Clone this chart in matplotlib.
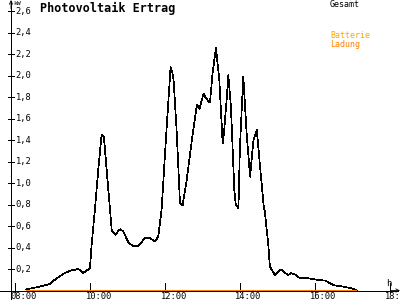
import matplotlib
matplotlib.use("Agg")
import matplotlib.pyplot as plt

# Gesamt (kW) ueber Uhrzeit (h)
hours = [8.29, 8.58, 8.93, 9.02, 9.29, 9.47, 9.69, 9.82, 10.00, 10.04,
         10.13, 10.22, 10.31, 10.37, 10.58, 10.67, 10.80, 10.89, 11.02, 11.16,
         11.29, 11.47, 11.60, 11.73, 11.82, 11.91, 12.04, 12.15, 12.19, 12.23,
         12.31, 12.40, 12.47, 12.58, 12.71, 12.85, 12.92, 13.03, 13.09, 13.20,
         13.27, 13.36, 13.45, 13.54, 13.58, 13.65, 13.69, 13.76, 13.85, 13.89,
         13.96, 14.00, 14.09, 14.18, 14.27, 14.36, 14.45, 14.53, 14.63, 14.67,
         14.76, 14.80, 14.93, 15.02, 15.11, 15.20, 15.29, 15.36, 15.47, 15.60,
         15.82, 16.09, 16.27, 16.49, 16.57, 16.78, 17.04, 17.13]
gesamt_kw = [0.01, 0.03, 0.06, 0.09, 0.155, 0.185, 0.20, 0.165, 0.207, 0.41,
             0.75, 1.12, 1.45, 1.435, 0.56, 0.52, 0.57, 0.55, 0.45, 0.41,
             0.415, 0.49, 0.49, 0.455, 0.50, 0.75, 1.49, 2.08, 2.04, 1.96,
             1.50, 0.815, 0.79, 1.03, 1.38, 1.73, 1.69, 1.835, 1.79, 1.75,
             2.02, 2.26, 1.96, 1.37, 1.49, 1.80, 2.005, 1.71, 0.935, 0.80,
             0.765, 1.34, 1.99, 1.46, 1.06, 1.40, 1.495, 1.18, 0.80, 0.72,
             0.41, 0.22, 0.145, 0.175, 0.197, 0.165, 0.145, 0.16, 0.15, 0.115,
             0.114, 0.098, 0.093, 0.051, 0.045, 0.035, 0.014, 0.0]

# Batterie Ladung
ladung_hours = [8.29, 17.12]
ladung_kw = [0.0, 0.0]

y_ticks = [0.2, 0.4, 0.6, 0.8, 1.0, 1.2, 1.4, 1.6, 1.8, 2.0, 2.2, 2.4, 2.6]
x_ticks = [8, 10, 12, 14, 16, 18]
x_labels = ["08:00", "10:00", "12:00", "14:00", "16:00", "18:"]

plt.rcParams['font.family'] = ['DejaVu Sans Mono']

W, H = 400, 300
LW = 0.5
fig = plt.figure(figsize=(4, 3), dpi=100)
# Achsen: y-Achse bei x=11px, Nulllinie bei y=290.5px
ax = fig.add_axes([11 / W, 9.5 / H, 389 / W, 290.5 / H])
ax.set_xlim(7.893, 18.27)
ax.set_ylim(0, 2.705)
ax.axis('off')

axw, axh = 389.0, 290.5

# Achsenlinien mit Pfeilen
ax.plot([-11 / axw, 387 / axw], [0, 0], transform=ax.transAxes, color='black',
        lw=LW, clip_on=False, zorder=1, antialiased=False)
ax.plot([0, 0], [-9.5 / axh, 0.995], transform=ax.transAxes, color='black',
        lw=LW, clip_on=False, zorder=1, antialiased=False)
ax.annotate('', xy=(1.0, 0), xytext=(380 / axw, 0), xycoords='axes fraction',
            arrowprops=dict(arrowstyle='->', lw=0.6, color='black',
                            shrinkA=0, shrinkB=0, mutation_scale=6))
ax.annotate('', xy=(0, 1.0), xytext=(0, 0.97), xycoords='axes fraction',
            arrowprops=dict(arrowstyle='->', lw=0.6, color='black',
                            shrinkA=0, shrinkB=0, mutation_scale=6))

# y-Ticks
ytr = ax.get_yaxis_transform()
for y in y_ticks:
    ax.plot([-3 / axw, 3 / axw], [y, y], transform=ytr, color='black',
            lw=LW, clip_on=False, antialiased=False)
    ax.text(4.5 / axw, y, f"{y:.1f}".replace('.', ','), transform=ytr,
            ha='left', va='center', fontsize=6.3)

# x-Ticks
xtr = ax.get_xaxis_transform()
for x, lab in zip(x_ticks, x_labels):
    ax.plot([x, x], [-1 / axh, 8 / axh], transform=xtr, color='black',
            lw=LW, clip_on=False, antialiased=False)
    ax.text(x - 4.5 / 37.5, -1.5 / axh, lab, transform=xtr, ha='left',
            va='top', fontsize=6.3, clip_on=False)

# Daten
ax.plot(hours, gesamt_kw, color='black', lw=LW, antialiased=False, zorder=3)
ax.plot(ladung_hours, ladung_kw, color='#ff8000', lw=1.4,
        solid_capstyle='butt', antialiased=False, zorder=4)

# Beschriftungen
fig.text(40 / W, 1 - 8 / H, 'Photovoltaik Ertrag', fontsize=8.5,
         fontweight='bold', va='center', ha='left')
fig.text(13 / W, 1 - 3.2 / H, 'kW', fontsize=4.6, va='center', ha='left')
fig.text(386 / W, 1 - 283.5 / H, 'h', fontsize=6.5, va='center', ha='left')
fig.text(330 / W, 1 - 4.5 / H, 'Gesamt', fontsize=6, va='center', ha='left')
fig.text(330 / W, 1 - 36 / H, 'Batterie', fontsize=6, va='center', ha='left',
         color='#ffa500')
fig.text(330 / W, 1 - 44 / H, 'Ladung', fontsize=6, va='center', ha='left',
         color='#ff8000')

fig.savefig('out.png', dpi=100, facecolor='white')
